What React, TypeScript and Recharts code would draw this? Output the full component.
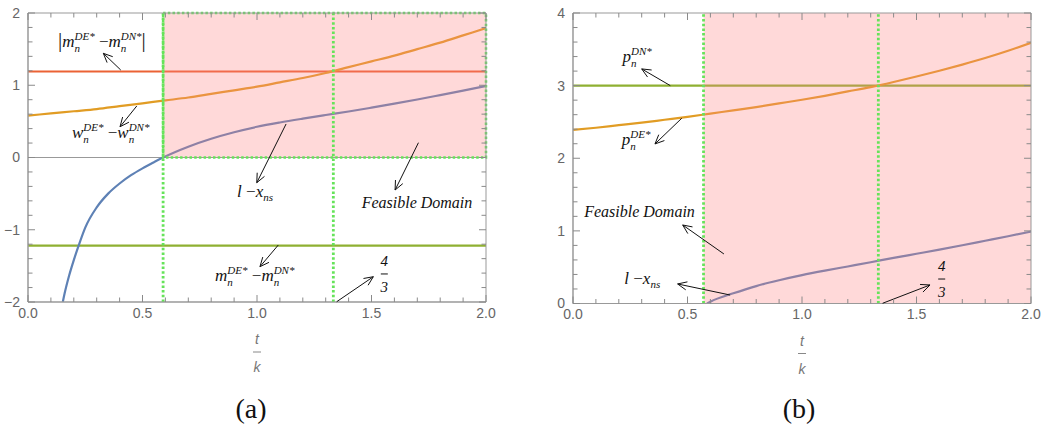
import React from "react";
import {
  LineChart,
  Line,
  XAxis,
  YAxis,
  ReferenceArea,
  ReferenceLine,
  ReferenceDot,
} from "recharts";

// t/k grid shared by the smooth curves
const tGrid = [0, 0.1, 0.2, 0.3, 0.4, 0.5, 0.6, 0.7, 0.8, 0.9, 1.0, 1.1, 1.2, 1.3, 1.4, 1.5, 1.6, 1.7, 1.8, 1.9, 2.0];
const ends = [0, 2];

// panel (a)
const wGapA = [0.58, 0.61, 0.64, 0.67, 0.71, 0.75, 0.79, 0.83, 0.88, 0.93, 0.98, 1.04, 1.1, 1.17, 1.25, 1.33, 1.41, 1.5, 1.59, 1.69, 1.79];
const mAbsGapA = [1.19, 1.19];
const mGapA = [-1.22, -1.22];
const lxTA = [0.152, 0.16, 0.18, 0.2, 0.22, 0.25, 0.3, 0.35, 0.4, 0.45, 0.5, 0.55, 0.59, 0.7, 0.8, 0.9, 1.0, 1.1, 1.2, 1.3, 1.4, 1.5, 1.6, 1.7, 1.8, 1.9, 2.0];
const lxA = [-2.0, -1.88, -1.63, -1.42, -1.23, -0.97, -0.69, -0.5, -0.36, -0.245, -0.15, -0.065, 0, 0.15, 0.26, 0.35, 0.425, 0.485, 0.538, 0.588, 0.637, 0.69, 0.745, 0.803, 0.864, 0.926, 0.99];
const cutsA = [0.59, 4 / 3];

// panel (b)
const pDE = [2.39, 2.42, 2.455, 2.49, 2.53, 2.57, 2.615, 2.66, 2.705, 2.755, 2.805, 2.86, 2.92, 2.98, 3.05, 3.125, 3.205, 3.29, 3.38, 3.48, 3.59];
const pDN = [3, 3];
const lxTB = [0.585, 0.6, 0.7, 0.8, 0.9, 1.0, 1.1, 1.2, 1.3, 1.4, 1.5, 1.6, 1.7, 1.8, 1.9, 2.0];
const lxB = [0, 0.025, 0.14, 0.24, 0.32, 0.39, 0.452, 0.51, 0.568, 0.628, 0.685, 0.742, 0.802, 0.864, 0.926, 0.99];
const cutsB = [0.57, 4 / 3];

// ticks (labels only on the majors)
const xTicks = [0, 0.1, 0.2, 0.3, 0.4, 0.5, 0.6, 0.7, 0.8, 0.9, 1, 1.1, 1.2, 1.3, 1.4, 1.5, 1.6, 1.7, 1.8, 1.9, 2];
const yTicksA = [-2, -1.8, -1.6, -1.4, -1.2, -1, -0.8, -0.6, -0.4, -0.2, 0, 0.2, 0.4, 0.6, 0.8, 1, 1.2, 1.4, 1.6, 1.8, 2];
const yTicksB = [0, 0.2, 0.4, 0.6, 0.8, 1, 1.2, 1.4, 1.6, 1.8, 2, 2.2, 2.4, 2.6, 2.8, 3, 3.2, 3.4, 3.6, 3.8, 4];

const zip = (xs: number[], ys: number[]) => xs.map((x, i) => ({ x, y: ys[i] }));

const BLUE = "#5E81B5";
const ORANGE = "#E19C24";
const GREEN = "#8FB032";
const RED = "#EB6235";
const DOTS = "#66e35a";
const FRAME = "#999999";
const TICKMARK = "#8a8a8a";
const TICKTXT = "#666666";
const SERIF = "'Liberation Serif', 'Times New Roman', serif";
const SANS = "'Liberation Sans', Arial, sans-serif";

// plot box in chart pixels (same for both panels except the bottom)
const PLOT_L = 28;
const PLOT_R = 486;
const PLOT_T = 13;

const near = (v: number, step: number) => Math.abs(v / step - Math.round(v / step)) < 1e-6;

const makeXTick = (bottom: number) => (p: any) => {
  const v = p.payload.value;
  const major = near(v, 0.5);
  const len = major ? 7 : 4.5;
  return (
    <g>
      <line x1={p.x} x2={p.x} y1={bottom} y2={bottom - len} stroke={TICKMARK} strokeWidth={1} />
      <line x1={p.x} x2={p.x} y1={PLOT_T} y2={PLOT_T + len} stroke={TICKMARK} strokeWidth={1} />
      {major && (
        <text x={p.x} y={bottom + 6} dy="0.71em" textAnchor="middle" fill={TICKTXT} fontSize={14} fontFamily={SANS}>
          {v.toFixed(1)}
        </text>
      )}
    </g>
  );
};

const yTick = (p: any) => {
  const v = p.payload.value;
  const major = near(v, 1);
  const len = major ? 7 : 4.5;
  return (
    <g>
      <line x1={PLOT_L} x2={PLOT_L + len} y1={p.y} y2={p.y} stroke={TICKMARK} strokeWidth={1} />
      <line x1={PLOT_R} x2={PLOT_R - len} y1={p.y} y2={p.y} stroke={TICKMARK} strokeWidth={1} />
      {major && (
        <text x={PLOT_L - 8} y={p.y} dy="0.355em" textAnchor="end" fill={TICKTXT} fontSize={14} fontFamily={SANS}>
          {v < 0 ? "\u2212" + Math.abs(v) : String(v)}
        </text>
      )}
    </g>
  );
};

const arrowShape = (p: any) => {
  const { x1, y1, x2, y2 } = p;
  const a = Math.atan2(y2 - y1, x2 - x1);
  const L = 10;
  const s = 0.42;
  const hx1 = x2 - L * Math.cos(a - s);
  const hy1 = y2 - L * Math.sin(a - s);
  const hx2 = x2 - L * Math.cos(a + s);
  const hy2 = y2 - L * Math.sin(a + s);
  return (
    <g>
      <line x1={x1} y1={y1} x2={x2} y2={y2} stroke="#111" strokeWidth={1} />
      <polyline points={`${hx1},${hy1} ${x2},${y2} ${hx2},${hy2}`} fill="none" stroke="#111" strokeWidth={1} />
    </g>
  );
};

// symbol with subscript n and a superscript stacked over it
const sym = (base: string, sup: string, k: string) => [
  <tspan key={k + "b"}>{base}</tspan>,
  <tspan key={k + "n"} fontSize={11} dy={5}>n</tspan>,
  <tspan key={k + "s"} fontSize={11} dx={-5.5} dy={-12}>{sup}</tspan>,
];

const txt = { fontFamily: SERIF, fontStyle: "italic" as const, fontSize: 17, fill: "#111" };

const labelMM = (abs: boolean) => (p: any) => (
  <text x={p.cx} y={p.cy} {...txt}>
    {abs && <tspan fontStyle="normal" fontSize={21}>|</tspan>}
    {sym("m", "DE*", "a")}
    <tspan dy={7} fontStyle="normal"> −</tspan>
    {sym("m", "DN*", "b")}
    {abs && <tspan dy={7} fontStyle="normal" fontSize={21}>|</tspan>}
  </text>
);

const labelWW = (p: any) => (
  <text x={p.cx} y={p.cy} {...txt}>
    {sym("w", "DE*", "a")}
    <tspan dy={7} fontStyle="normal"> −</tspan>
    {sym("w", "DN*", "b")}
  </text>
);

const labelP = (sup: string) => (p: any) => (
  <text x={p.cx} y={p.cy} {...txt}>
    {sym("p", sup, "a")}
  </text>
);

const labelLX = (p: any) => (
  <text x={p.cx} y={p.cy} {...txt}>
    <tspan>l </tspan>
    <tspan fontStyle="normal">−</tspan>
    <tspan>x</tspan>
    <tspan fontSize={11} dy={4}>ns</tspan>
  </text>
);

const labelFD = (p: any) => (
  <text x={p.cx} y={p.cy} {...txt} fontSize={16}>
    Feasible Domain
  </text>
);

const labelFrac = (p: any) => (
  <g>
    <text x={p.cx} y={p.cy - 8} {...txt} fontSize={15} textAnchor="middle">4</text>
    <line x1={p.cx - 3.5} x2={p.cx + 3.5} y1={p.cy} y2={p.cy} stroke="#111" strokeWidth={1} />
    <text x={p.cx} y={p.cy + 18} {...txt} fontSize={15} textAnchor="middle">3</text>
  </g>
);

const tkLabel = (p: any) => {
  const vb = p.viewBox;
  const cx = vb.x + vb.width / 2;
  const y0 = vb.y;
  return (
    <g fill="#777" fontFamily={SANS} fontStyle="italic" fontSize={14}>
      <text x={cx} y={y0 + 42} textAnchor="middle">t</text>
      <line x1={cx - 4} x2={cx + 4} y1={y0 + 50} y2={y0 + 50} stroke="#888" strokeWidth={1} />
      <text x={cx} y={y0 + 70} textAnchor="middle">k</text>
    </g>
  );
};

function axes(yDom: [number, number], yTicks: number[], bottom: number) {
  return [
    <XAxis
      key="x"
      type="number"
      dataKey="x"
      domain={[0, 2]}
      ticks={xTicks}
      interval={0}
      allowDataOverflow
      tickLine={false}
      tickMargin={0}
      axisLine={{ stroke: FRAME }}
      tick={makeXTick(bottom)}
      height={20}
      label={{ content: tkLabel }}
    />,
    <YAxis
      key="y"
      type="number"
      domain={yDom}
      ticks={yTicks}
      interval={0}
      allowDataOverflow
      tickLine={false}
      axisLine={{ stroke: FRAME }}
      tick={yTick}
      width={28}
    />,
    <ReferenceArea key="box" x1={0} x2={2} y1={yDom[0]} y2={yDom[1]} fill="none" stroke={FRAME} strokeWidth={1} ifOverflow="visible" zIndex={1200} />,
  ];
}

const arrow = (k: string, a: [number, number], b: [number, number]) => (
  <ReferenceLine
    key={k}
    segment={[{ x: a[0], y: a[1] }, { x: b[0], y: b[1] }]}
    shape={arrowShape}
    ifOverflow="visible"
    zIndex={1500}
  />
);

const label = (k: string, x: number, y: number, shape: any) => (
  <ReferenceDot key={k} x={x} y={y} r={0} ifOverflow="visible" shape={shape} zIndex={1600} />
);

function PanelA() {
  return (
    <LineChart width={520} height={428} margin={{ top: 13, right: 34, left: 0, bottom: 106 }}>
      {axes([-2, 2], yTicksA, 302)}
      <ReferenceLine y={0} stroke={FRAME} strokeWidth={1} />
      <Line data={zip(ends, mGapA)} dataKey="y" stroke={GREEN} strokeWidth={2.2} dot={false} isAnimationActive={false} />
      <Line data={zip(ends, mAbsGapA)} dataKey="y" stroke={RED} strokeWidth={2.2} dot={false} isAnimationActive={false} />
      <Line data={zip(tGrid, wGapA)} dataKey="y" type="monotone" stroke={ORANGE} strokeWidth={2.2} dot={false} isAnimationActive={false} />
      <Line data={zip(lxTA, lxA)} dataKey="y" type="monotone" stroke={BLUE} strokeWidth={2.2} dot={false} isAnimationActive={false} />
      <ReferenceArea x1={cutsA[0]} x2={2} y1={0} y2={2} fill="#ff8080" fillOpacity={0.3} stroke={DOTS} strokeWidth={2.5} strokeDasharray="2.5 2.2" ifOverflow="visible" zIndex={1000} />
      {cutsA.map((c, i) => (
        <ReferenceLine key={"c" + i} x={c} stroke={DOTS} strokeWidth={2.8} strokeDasharray="2.5 2.2" zIndex={1100} />
      ))}
      {arrow("a1", [0.405, 1.211], [0.329, 1.442])}
      {arrow("a2", [0.475, 0.713], [0.402, 0.426])}
      {arrow("a3", [1.127, 0.464], [0.999, -0.349])}
      {arrow("a4", [1.705, 0.205], [1.603, -0.45])}
      {arrow("a5", [1.093, -1.211], [1.013, -1.511])}
      {arrow("a6", [1.348, -1.996], [1.508, -1.65])}
      {label("l1", 0.131, 1.529, labelMM(true))}
      {label("l2", 0.192, 0.27, labelWW)}
      {label("l3", 0.913, -0.543, labelLX)}
      {label("l4", 1.457, -0.703, labelFD)}
      {label("l5", 0.817, -1.705, labelMM(false))}
      {label("l6", 1.556, -1.612, labelFrac)}
    </LineChart>
  );
}

function PanelB() {
  return (
    <LineChart width={506} height={428} margin={{ top: 13, right: 20, left: 0, bottom: 104.5 }}>
      {axes([0, 4], yTicksB, 303.5)}
      <Line data={zip(ends, pDN)} dataKey="y" stroke={GREEN} strokeWidth={2.2} dot={false} isAnimationActive={false} />
      <Line data={zip(tGrid, pDE)} dataKey="y" type="monotone" stroke={ORANGE} strokeWidth={2.2} dot={false} isAnimationActive={false} />
      <Line data={zip(lxTB, lxB)} dataKey="y" type="monotone" stroke={BLUE} strokeWidth={2.2} dot={false} isAnimationActive={false} />
      <ReferenceArea x1={cutsB[0]} x2={2} y1={0} y2={4} fill="#ff8080" fillOpacity={0.3} ifOverflow="visible" zIndex={1000} />
      {cutsB.map((c, i) => (
        <ReferenceLine key={"c" + i} x={c} stroke={DOTS} strokeWidth={2.8} strokeDasharray="2.5 2.2" zIndex={1100} />
      ))}
      {arrow("b1", [0.425, 3.0], [0.3, 3.23])}
      {arrow("b2", [0.475, 2.551], [0.358, 2.197])}
      {arrow("b3", [0.659, 0.682], [0.479, 1.081])}
      {arrow("b4", [0.686, 0.117], [0.457, 0.269])}
      {arrow("b5", [1.352, 0.003], [1.559, 0.255])}
      {label("m1", 0.216, 3.33, labelP("DN*"))}
      {label("m2", 0.213, 2.18, labelP("DE*"))}
      {label("m3", 0.049, 1.196, labelFD)}
      {label("m4", 0.224, 0.27, labelLX)}
      {label("m5", 1.61, 0.337, labelFrac)}
    </LineChart>
  );
}

const captionStyle: React.CSSProperties = {
  position: "absolute",
  top: 392,
  width: 80,
  textAlign: "center",
  fontFamily: SERIF,
  fontSize: 28,
  lineHeight: "34px",
  color: "#111",
};

export default function App() {
  return (
    <div style={{ position: "absolute", left: 0, top: 0, width: 1051, height: 428, background: "#fff", overflow: "hidden" }}>
      <div style={{ position: "absolute", left: 0, top: 0 }}>
        <PanelA />
      </div>
      <div style={{ position: "absolute", left: 545, top: 0 }}>
        <PanelB />
      </div>
      <div style={{ ...captionStyle, left: 251 - 40 }}>(a)</div>
      <div style={{ ...captionStyle, left: 799 - 40 }}>(b)</div>
    </div>
  );
}
